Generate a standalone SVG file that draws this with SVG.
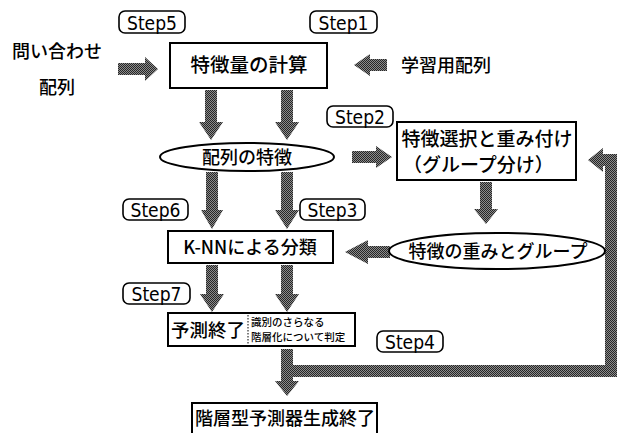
<svg xmlns="http://www.w3.org/2000/svg" width="617" height="433" viewBox="0 0 617 433">
<defs>
<pattern id="hatch" patternUnits="userSpaceOnUse" width="2" height="2">
<rect width="2" height="2" fill="#8c8c8c"/>
<rect x="0" y="0" width="1" height="1" fill="#262626"/>
<rect x="1" y="1" width="1" height="1" fill="#262626"/>
</pattern>
</defs>
<style>
.box{fill:#fff;stroke:#000;stroke-width:2}
.step{fill:#fff;stroke:#000;stroke-width:1.6}
.st{font-family:"DejaVu Sans Condensed","Liberation Sans Narrow","Liberation Sans",sans-serif;font-size:20px;fill:#000;text-anchor:middle}
.jp{font-family:"Noto Sans CJK JP","Noto Sans CJK SC",sans-serif;font-size:18px;font-weight:500;fill:#000;text-anchor:middle}
.sm{font-family:"Noto Sans CJK JP","Noto Sans CJK SC",sans-serif;font-size:10.5px;font-weight:500;fill:#000}
.arr{fill:url(#hatch);stroke:none}
</style>
<rect width="617" height="433" fill="#fff"/>

<g id="connectors">
<polygon class="arr" points="118,63 145,63 145,57 158,69 145,81 145,75 118,75"/>
<polygon class="arr" points="387,59 370,59 370,54 354,65 370,76 370,71 387,71"/>
<polygon class="arr" points="205,90 217,90 217,122 223,122 211,140 199,122 205,122"/>
<polygon class="arr" points="281,90 293,90 293,122 299,122 287,140 275,122 281,122"/>
<polygon class="arr" points="352,151 376,151 376,146 392,157 376,168 376,163 352,163"/>
<polygon class="arr" points="480,182 492,182 492,209 498,209 486,224 474,209 480,209"/>
<polygon class="arr" points="206,172 218,172 218,210 223,210 212,229 201,210 206,210"/>
<polygon class="arr" points="281,172 293,172 293,210 299,210 287,229 275,210 281,210"/>
<polygon class="arr" points="390,246 368,246 368,240 345,252 368,264 368,258 390,258"/>
<polygon class="arr" points="206,265 218,265 218,294 224,294 212,312 200,294 206,294"/>
<polygon class="arr" points="281,265 293,265 293,294 299,294 287,312 275,294 281,294"/>
<polygon class="arr" points="281,349 293,349 293,381 299,381 287,396 275,381 281,381"/>
<polygon class="arr" points="293,365 605,365 605,166 603,166 603,172 588,160 603,148 603,154 617,154 617,377 293,377"/>
</g>

<g id="step5"><rect class="step" x="119" y="11" width="66" height="22" rx="6"/><text class="st" x="152" y="29.5" textLength="50" lengthAdjust="spacingAndGlyphs">Step5</text></g>
<g id="step1"><rect class="step" x="310" y="11" width="67" height="22" rx="6"/><text class="st" x="343.5" y="29.5" textLength="50" lengthAdjust="spacingAndGlyphs">Step1</text></g>
<g id="step2"><rect class="step" x="327" y="106" width="66" height="21" rx="6"/><text class="st" x="360" y="123.5" textLength="50" lengthAdjust="spacingAndGlyphs">Step2</text></g>
<g id="step6"><rect class="step" x="123" y="199" width="65" height="21" rx="6"/><text class="st" x="155.5" y="216.5" textLength="50" lengthAdjust="spacingAndGlyphs">Step6</text></g>
<g id="step3"><rect class="step" x="300" y="199" width="65" height="21" rx="6"/><text class="st" x="332.5" y="216.5" textLength="50" lengthAdjust="spacingAndGlyphs">Step3</text></g>
<g id="step7"><rect class="step" x="123" y="283" width="67" height="21" rx="6"/><text class="st" x="156.5" y="300.5" textLength="50" lengthAdjust="spacingAndGlyphs">Step7</text></g>
<g id="step4"><rect class="step" x="377" y="331" width="66" height="21" rx="6"/><text class="st" x="410" y="348.5" textLength="50" lengthAdjust="spacingAndGlyphs">Step4</text></g>

<g id="query"><text class="jp" x="57" y="58">問い合わせ</text><text class="jp" x="57" y="94">配列</text></g>
<g id="training"><text class="jp" x="446" y="72">学習用配列</text></g>

<g id="calc"><rect class="box" x="170" y="43" width="157" height="45"/><text class="jp" x="249" y="72" style="font-size:19.5px">特徴量の計算</text></g>

<g id="features"><ellipse cx="247" cy="157" rx="87" ry="14" fill="#fff" stroke="#000" stroke-width="2"/><text class="jp" x="247" y="163.5">配列の特徴</text></g>

<g id="selection"><rect class="box" x="397" y="122" width="179" height="58"/><text class="jp" x="487" y="146" style="font-size:19px">特徴選択と重み付け</text><text class="jp" x="403" y="172" style="font-size:19px;text-anchor:start">（グループ分け）</text></g>

<g id="weights"><ellipse cx="497" cy="251" rx="108" ry="18" fill="#fff" stroke="#000" stroke-width="2"/><text class="jp" x="498" y="258">特徴の重みとグループ</text></g>

<g id="knn"><rect class="box" x="168" y="231" width="165" height="32"/><text class="jp" x="250" y="254">K-NNによる分類</text></g>

<g id="predend"><rect class="box" x="168" y="313" width="187" height="33"/><line x1="248" y1="315" x2="248" y2="344" stroke="#000" stroke-width="1" stroke-dasharray="1.5,1.5"/><text class="jp" x="208" y="337" style="font-size:18.5px">予測終了</text><text class="sm" x="251" y="326">識別のさらなる</text><text class="sm" x="251" y="341">階層化について判定</text></g>

<g id="final"><rect class="box" x="192" y="403" width="185" height="34"/><text class="jp" x="285" y="425">階層型予測器生成終了</text></g>
</svg>
